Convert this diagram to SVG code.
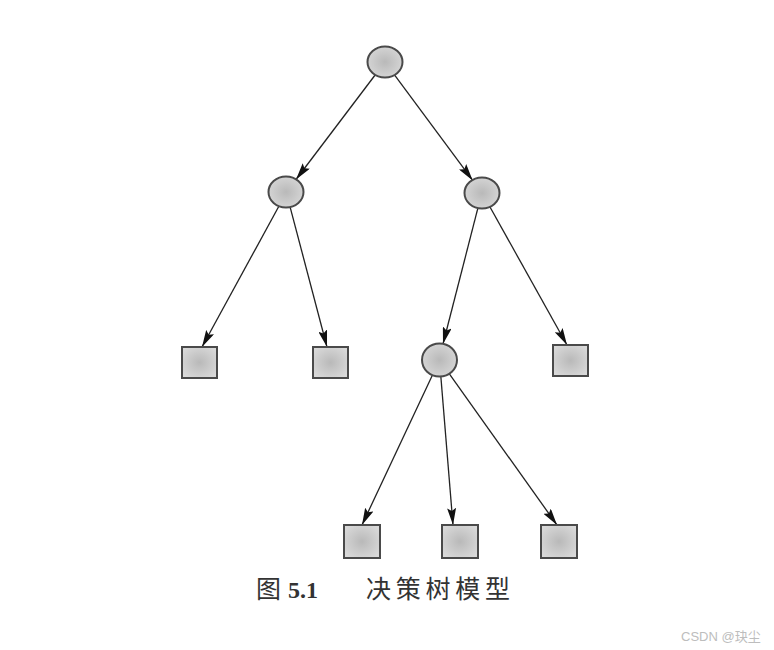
<svg xmlns="http://www.w3.org/2000/svg" width="774" height="650" viewBox="0 0 774 650">
<defs>
<radialGradient id="g" cx="50%" cy="50%" r="60%">
<stop offset="0" stop-color="#b9b9b9"/>
<stop offset="1" stop-color="#d9d9d9"/>
</radialGradient>
<marker id="ah" viewBox="0 0 17 9" refX="17" refY="4.5" markerWidth="17" markerHeight="9" markerUnits="userSpaceOnUse" orient="auto">
<path d="M0,0 L17,4.5 L0,9 L3,4.5 Z" fill="#111"/>
</marker>
</defs>
<style>
.n{fill:url(#g);stroke:#4a4a4a;stroke-width:2}
.e{stroke:#222;stroke-width:1.3;fill:none;marker-end:url(#ah)}
.cap{font-family:"Noto Sans CJK SC","Liberation Serif",serif;font-size:25px;fill:#333}
</style>
<rect width="774" height="650" fill="#fff"/>
<g id="connectors">
<line class="e" x1="375.5" y1="74.5" x2="296" y2="179.5"/>
<line class="e" x1="394.3" y1="74.6" x2="472.7" y2="180.4"/>
<line class="e" x1="279" y1="206" x2="202" y2="347"/>
<line class="e" x1="290" y1="206.6" x2="327" y2="347"/>
<line class="e" x1="478" y1="207.7" x2="443" y2="344"/>
<line class="e" x1="490" y1="207" x2="567" y2="345"/>
<line class="e" x1="432.6" y1="374.7" x2="362" y2="525"/>
<line class="e" x1="440.8" y1="376" x2="453" y2="525"/>
<line class="e" x1="449" y1="373.4" x2="557" y2="525"/>
</g>
<g id="root"><ellipse class="n" cx="385" cy="62" rx="17.5" ry="15.5"/></g>
<g id="left"><ellipse class="n" cx="286" cy="192" rx="17.5" ry="15.5"/></g>
<g id="right"><ellipse class="n" cx="482" cy="193" rx="17.5" ry="15.5"/></g>
<g id="mid"><ellipse class="n" cx="439.5" cy="360" rx="17.5" ry="16.5"/></g>
<g id="leaf1"><rect class="n" x="182" y="347" width="35" height="31"/></g>
<g id="leaf2"><rect class="n" x="313" y="347" width="35" height="31"/></g>
<g id="leaf3"><rect class="n" x="553" y="345" width="35" height="31"/></g>
<g id="leaf4"><rect class="n" x="344" y="525" width="36" height="33"/></g>
<g id="leaf5"><rect class="n" x="442" y="525" width="36" height="33"/></g>
<g id="leaf6"><rect class="n" x="541" y="525" width="36" height="33"/></g>
<g id="caption">
<text class="cap" x="256" y="598" font-size="24">图</text>
<text x="288" y="598" font-family="Liberation Serif" font-weight="bold" font-size="24" fill="#333">5.1</text>
<text class="cap" x="366" y="598" textLength="144" lengthAdjust="spacing">决策树模型</text>
</g>
<text x="681" y="641" font-family="'Liberation Sans','Noto Sans CJK SC',sans-serif" font-size="13" fill="#bdbdbd">CSDN @玦尘</text>
</svg>
